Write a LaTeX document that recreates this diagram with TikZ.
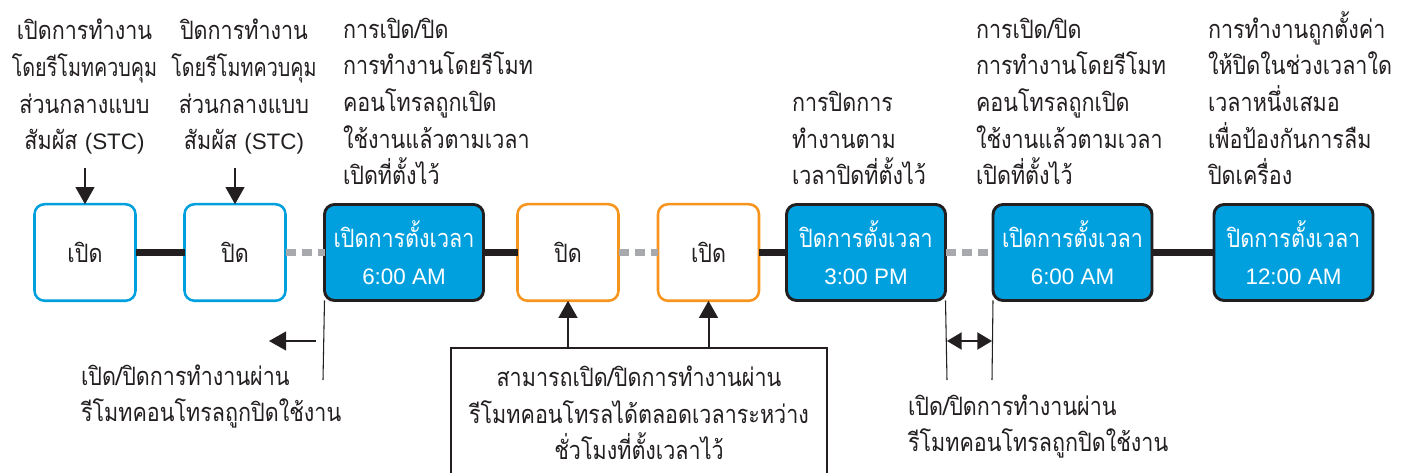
\documentclass[tikz,border=0pt]{standalone}
\usepackage{fontspec}
\setmainfont{Liberation Sans}
\newfontfamily\thai[Script=Thai,FakeStretch=0.85]{Loma}
\newfontfamily\thaic[Script=Thai,FakeStretch=0.78]{Loma}
\newfontfamily\latf{Liberation Sans}
\usetikzlibrary{arrows.meta}
\definecolor{cyanb}{RGB}{0,160,223}
\definecolor{orng}{RGB}{247,148,29}
\definecolor{dark}{RGB}{35,31,32}
\definecolor{gry}{RGB}{167,169,172}
\newcommand\lt[1]{{\latf\fontsize{16.8}{27.5}\selectfont #1}}
\newcommand\nrw[1]{{\thaic #1}}
\begin{document}
\begin{tikzpicture}[x=0.75pt,y=-0.75pt,
  every node/.style={inner sep=0pt,outer sep=0pt},
  lbl/.style={font=\thai\fontsize{19}{27.5}\selectfont,text=dark},
  wbox/.style={draw=cyanb,line width=1.9pt,fill=white,rounded corners=7.5pt,minimum width=75.75pt,minimum height=72.4pt,align=center,lbl},
  obox/.style={wbox,draw=orng},
  bbox/.style={draw=dark,line width=2.2pt,fill=cyanb,rounded corners=7.5pt,minimum width=119.25pt,minimum height=72pt,align=center,lbl,text=white},
  solidc/.style={draw=dark,line width=5.8pt},
  dashc/.style={draw=gry,line width=5.3pt,dash pattern=on 8pt off 4pt},
  downarr/.style={draw=dark,line width=1.2pt,-{Triangle[length=12.75pt,width=14pt]}},
  fatarr/.style={draw=dark,line width=1.5pt,-{Triangle[length=12.75pt,width=14pt]}},
  dblarr/.style={draw=dark,line width=1.5pt,{Triangle[length=11pt,width=12.75pt]}-{Triangle[length=11pt,width=12.75pt]}},
  thinl/.style={draw=dark,line width=0.8pt}
]
\useasboundingbox[fill=white] (0,0) rectangle (1404,473);

% boxes
\node[wbox] (b1) at (85,252.5) {เปิด};
\node[wbox] (b2) at (235,252.5) {ปิด};
\node[bbox] (b3) at (404,252.5) {เปิดการตั้งเวลา\\\lt{6:00 AM}};
\node[obox] (b4) at (568,252.5) {ปิด};
\node[obox] (b5) at (708.5,252.5) {เปิด};
\node[bbox] (b6) at (866,252.5) {ปิดการตั้งเวลา\\\lt{3:00 PM}};
\node[bbox] (b7) at (1072.5,252.5) {เปิดการตั้งเวลา\\\lt{6:00 AM}};
\node[bbox] (b8) at (1293.5,252.5) {ปิดการตั้งเวลา\\\lt{12:00 AM}};

% connectors
\draw[solidc] (b1.east) -- (b2.west);
\draw[dashc] (b2.east) -- (b3.west);
\draw[solidc] (b3.east) -- (b4.west);
\draw[dashc] (b4.east) -- (b5.west);
\draw[solidc] (b5.east) -- (b6.west);
\draw[dashc] (b6.east) -- (b7.west);
\draw[solidc] (b7.east) -- (b8.west);

% top texts (base anchor = last line baseline)
\node[lbl,align=center,anchor=base] (t1) at (84.5,150) {เปิดการทำงาน\\\nrw{โดยรีโมทควบคุม}\\ส่วนกลางแบบ\\สัมผัส \lt{(STC)}};
\node[lbl,align=center,anchor=base] (t2) at (244,150) {ปิดการทำงาน\\\nrw{โดยรีโมทควบคุม}\\ส่วนกลางแบบ\\สัมผัส \lt{(STC)}};
\node[lbl,align=left,anchor=base west] (t3) at (343,185) {การเปิด/ปิด\\การทำงานโดยรีโมท\\คอนโทรลถูกเปิด\\ใช้งานแล้วตามเวลา\\เปิดที่ตั้งไว้};
\node[lbl,align=left,anchor=base west] (t6) at (792,185) {การปิดการ\\ทำงานตาม\\เวลาปิดที่ตั้งไว้};
\node[lbl,align=left,anchor=base west] (t7) at (976,185) {การเปิด/ปิด\\การทำงานโดยรีโมท\\คอนโทรลถูกเปิด\\ใช้งานแล้วตามเวลา\\เปิดที่ตั้งไว้};
\node[lbl,align=left,anchor=base west] (t8) at (1208,185) {การทำงานถูกตั้งค่า\\ให้ปิดในช่วงเวลาใด\\เวลาหนึ่งเสมอ\\เพื่อป้องกันการลืม\\ปิดเครื่อง};

% top arrows
\coordinate (a1) at (85,168);
\coordinate (a2) at (235,168);
\draw[downarr] (a1) -- (b1.north);
\draw[downarr] (a2) -- (b2.north);

% left bracket
\coordinate (v1) at (323,380);
\draw[thinl] (b3.south west) -- (v1);
\coordinate (la1) at (316,341);
\coordinate (la2) at (269,341);
\draw[fatarr] (la1) -- (la2);
\node[lbl,align=left,anchor=base west] (tl) at (81,422) {เปิด/ปิดการทำงานผ่าน\\รีโมทคอนโทรลถูกปิดใช้งาน};

% bottom box
\coordinate (nbw) at (451,348);
\coordinate (nbe) at (827,348);
\coordinate (nbsw) at (451,490);
\coordinate (nbse) at (827,490);
\draw[draw=dark,line width=1pt] (nbsw) -- (nbw) -- (nbe) -- (nbse);
\node[lbl,align=center,anchor=base] (tb) at (639,460) {สามารถเปิด/ปิดการทำงานผ่าน\\รีโมทคอนโทรลได้ตลอดเวลาระหว่าง\\ชั่วโมงที่ตั้งเวลาไว้};
\draw[fatarr] (nbw -| b4) -- (b4.south);
\draw[fatarr] (nbw -| b5) -- (b5.south);

% right bracket
\coordinate (v2) at (947,380);
\coordinate (v3) at (992,380);
\draw[thinl] (b6.south east) -- (v2);
\draw[thinl] (b7.south west) -- (v3);
\coordinate (d1) at (947,341);
\coordinate (d2) at (992,341);
\draw[dblarr] (d1) -- (d2);
\node[lbl,align=left,anchor=base west] (tr) at (908,452) {เปิด/ปิดการทำงานผ่าน\\รีโมทคอนโทรลถูกปิดใช้งาน};
\end{tikzpicture}
\end{document}
